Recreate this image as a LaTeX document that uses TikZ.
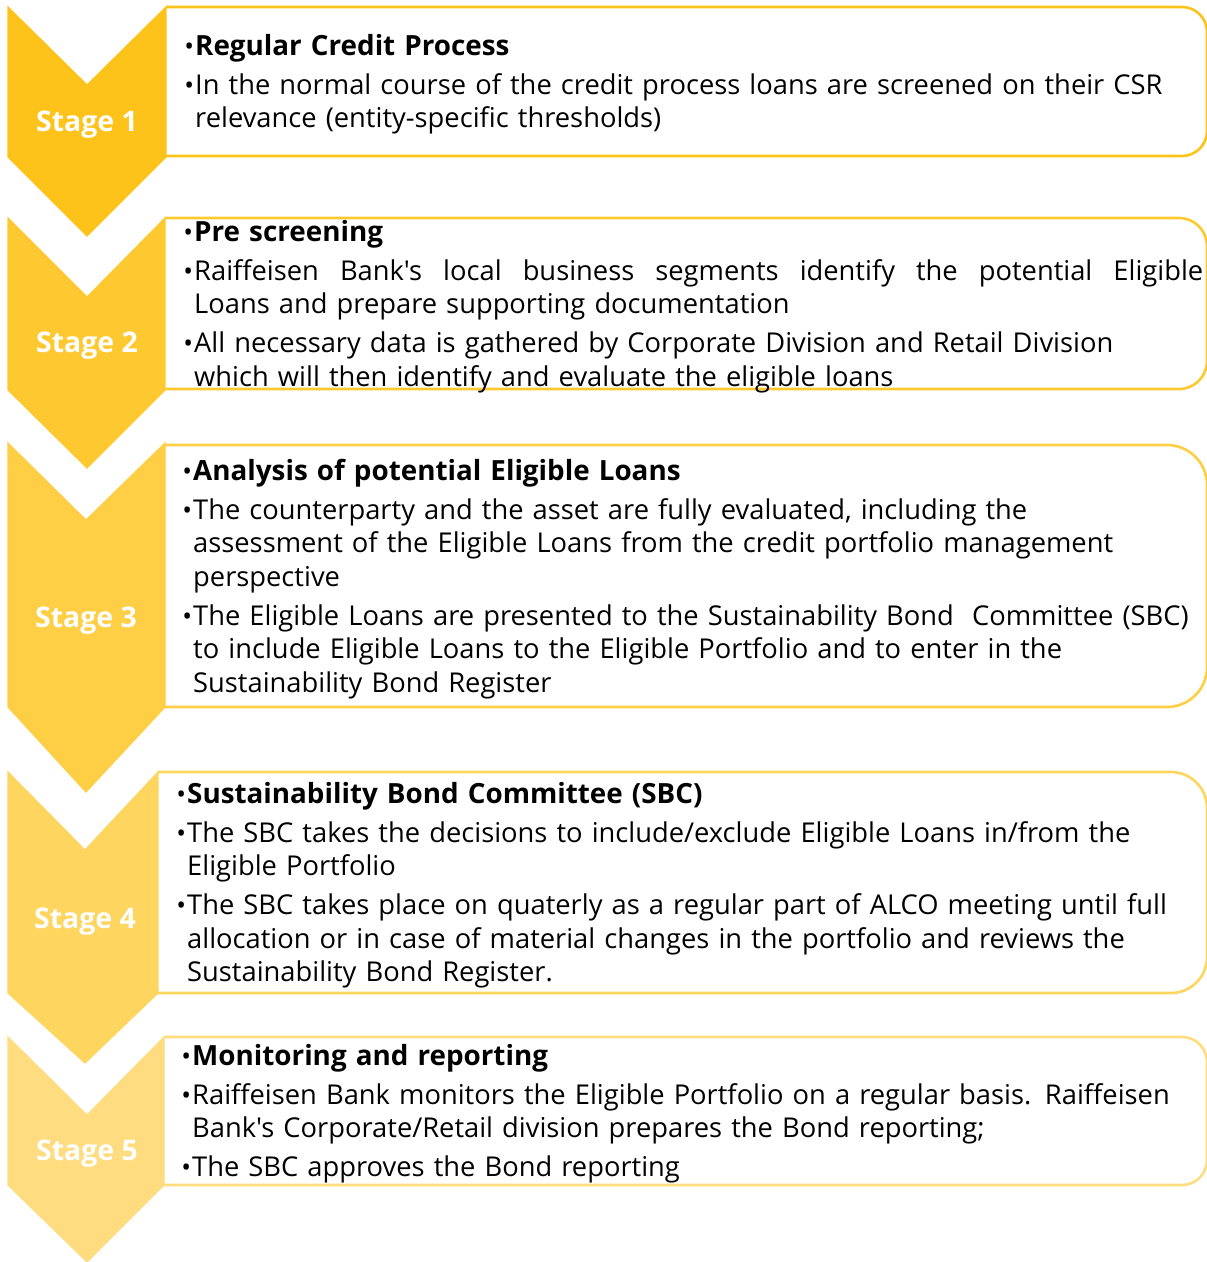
\documentclass[tikz,border=0pt]{standalone}
\usepackage{fontspec}
\setmainfont{Open Sans}[Ligatures=TeXOff]
\usepackage{graphicx}
\usepackage{xcolor}
\definecolor{stage_one}{HTML}{FDC31B}
\definecolor{stage_two}{HTML}{FEC930}
\definecolor{stage_three}{HTML}{FECF45}
\definecolor{stage_four}{HTML}{FED55E}
\definecolor{stage_five}{HTML}{FEDC7F}
\newcommand{\puce}{\leavevmode\llap{\scalebox{0.95}{\textbullet}\hspace{1pt}}}
\newcommand{\titre}[1]{\textbf{\fontsize{27.8}{33.5}\selectfont #1}}

\begin{document}
\begin{tikzpicture}[x=1pt,y=-1pt,
        chevron/.style={line width=1.2pt,line join=miter},
        boxline/.style={line width=2.6pt},
        stagelabel/.style={anchor=base,text=white,inner sep=0pt,font=\bfseries\fontsize{28.4}{30}\selectfont},
        stagetext/.style={anchor=base west,inner sep=0pt,text width=1040pt,align=left,font=\fontsize{27.3}{33.5}\selectfont}]
        \useasboundingbox (0,0) rectangle (1207,1262);
        % Stage 1
        \draw[boxline,stage_one,rounded corners=25pt] (166,7) -- (1207,7) -- (1207,156) -- (166,156);
        \filldraw[chevron,fill=stage_one,draw=stage_one] (8,7) -- (87,85) -- (166,7) -- (166,157) -- (87,236) -- (8,157) -- cycle;
        \node[stagelabel] (lab1) at (87,131) {Stage 1};
        \node[stagetext] (txt1) at (195,55) {\puce\titre{Regular Credit Process}\\[5.5pt]
            \puce In the normal course of the credit process loans are screened on their CSR\\
            relevance (entity-specific thresholds)};
        % Stage 2
        \draw[boxline,stage_two,rounded corners=28pt] (165,218) -- (1207,218) -- (1207,389) -- (165,389);
        \filldraw[chevron,fill=stage_two,draw=stage_two] (8,218) -- (87,297) -- (165,218) -- (165,390) -- (87,468) -- (8,390) -- cycle;
        \node[stagelabel] (lab2) at (87,352) {Stage 2};
        \node[stagetext] (txt2) at (194,241) {\puce\titre{Pre screening}\\[5.5pt]
            \puce\hbox to 1009pt{Raiffeisen\hfill Bank's\hfill local\hfill business\hfill segments\hfill identify\hfill the\hfill potential\hfill Eligible}\\
            Loans and prepare supporting documentation\\[5.5pt]
            \puce All necessary data is gathered by Corporate Division and Retail Division\\
            which will then identify and evaluate the eligible loans};
        % Stage 3
        \draw[boxline,stage_three,rounded corners=40pt] (165,445) -- (1207,445) -- (1207,707) -- (165,707);
        \filldraw[chevron,fill=stage_three,draw=stage_three] (8,443) -- (86,520) -- (165,443) -- (165,707) -- (86,792) -- (8,707) -- cycle;
        \node[stagelabel] (lab3) at (86,627) {Stage 3};
        \node[stagetext] (txt3) at (193,480) {\puce\titre{Analysis of potential Eligible Loans}\\[5.5pt]
            \puce The counterparty and the asset are fully evaluated, including the\\
            assessment of the Eligible Loans from the credit portfolio management\\
            perspective\\[5.5pt]
            \puce The Eligible Loans are presented to the Sustainability Bond\ \ Committee (SBC)\\
            to include Eligible Loans to the Eligible Portfolio and to enter in the\\
            Sustainability Bond Register};
        % Stage 4
        \draw[boxline,stage_four,rounded corners=36pt] (158,772) -- (1207,772) -- (1207,993) -- (158,993);
        \filldraw[chevron,fill=stage_four,draw=stage_four] (8,772) -- (85,850) -- (158,772) -- (158,993) -- (85,1063) -- (8,993) -- cycle;
        \node[stagelabel] (lab4) at (85,928) {Stage 4};
        \node[stagetext] (txt4) at (187,803) {\puce\titre{Sustainability Bond Committee (SBC)}\\[5.5pt]
            \puce The SBC takes the decisions to include/exclude Eligible Loans in/from the\\
            Eligible Portfolio\\[5.5pt]
            \puce The SBC takes place on quaterly as a regular part of ALCO meeting until full\\
            allocation or in case of material changes in the portfolio and reviews the\\
            Sustainability Bond Register.};
        % Stage 5
        \draw[boxline,stage_five,rounded corners=25pt] (164,1037) -- (1207,1037) -- (1207,1185) -- (164,1185);
        \filldraw[chevron,fill=stage_five,draw=stage_five] (8,1037) -- (87,1115) -- (164,1037) -- (164,1185) -- (87,1262) -- (8,1185) -- cycle;
        \node[stagelabel] (lab5) at (87,1160) {Stage 5};
        \node[stagetext] (txt5) at (192,1065) {\puce\titre{Monitoring and reporting}\\[5.5pt]
            \puce Raiffeisen Bank monitors the Eligible Portfolio on a regular basis. Raiffeisen\\
            Bank's Corporate/Retail division prepares the Bond reporting;\\[5.5pt]
            \puce The SBC approves the Bond reporting};
    \end{tikzpicture}
\end{document}
